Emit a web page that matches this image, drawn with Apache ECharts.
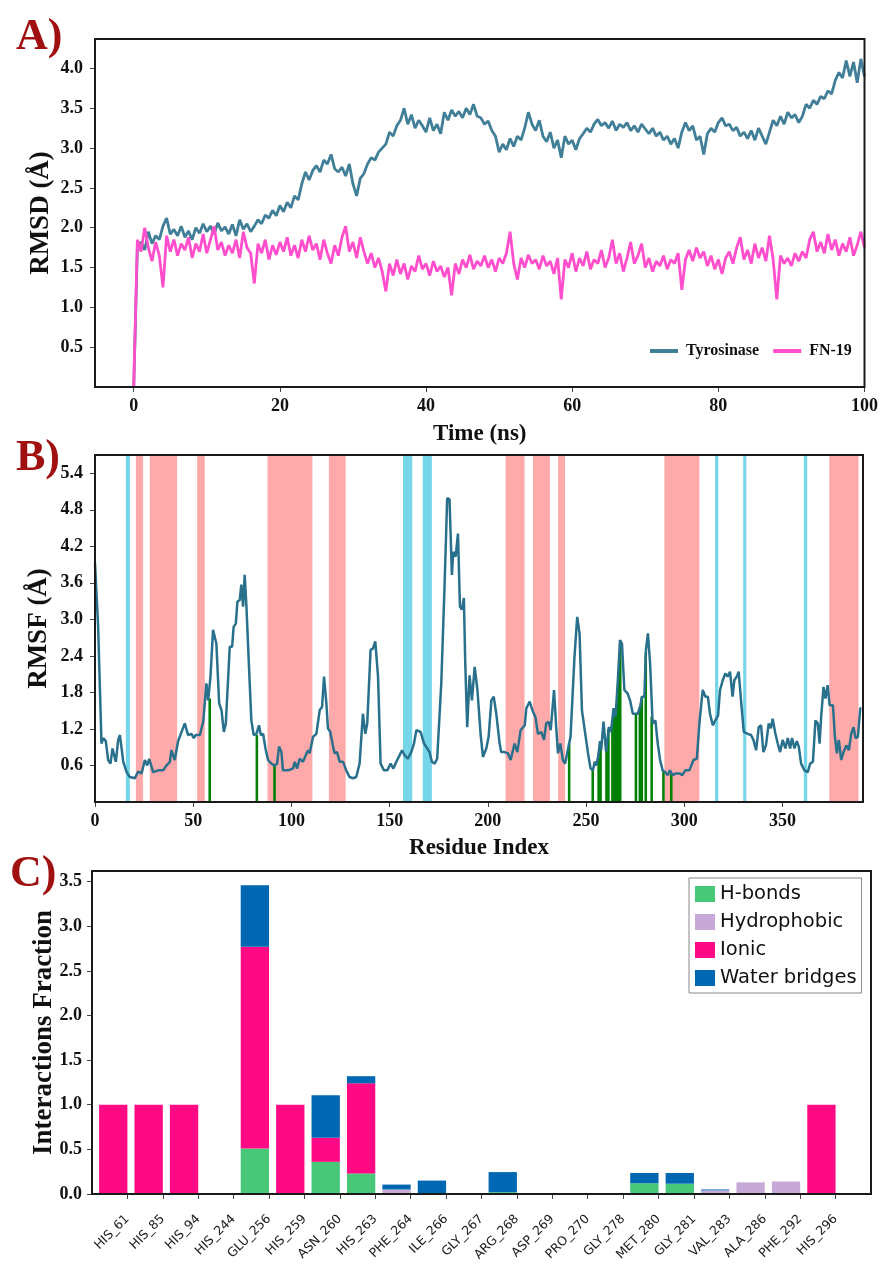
<!DOCTYPE html>
<html><head><meta charset="utf-8">
<script src="https://cdn.jsdelivr.net/npm/echarts@6/dist/echarts.min.js"></script>
<style>html,body{margin:0;padding:0;background:#fff}#c{width:881px;height:1264px}</style>
</head><body><div id="c"></div>
<script>
// ---------- Panel A : RMSD ----------
const timeNs = [
0,0.5,1,1.5,2,2.5,3,3.5,4,4.5,
5,5.5,6,6.5,7,7.5,8,8.5,9,9.5,
10,10.5,11,11.5,12,12.5,13,13.5,14,14.5,
15,15.5,16,16.5,17,17.5,18,18.5,19,19.5,
20,20.5,21,21.5,22,22.5,23,23.5,24,24.5,
25,25.5,26,26.5,27,27.5,28,28.5,29,29.5,
30,30.5,31,31.5,32,32.5,33,33.5,34,34.5,
35,35.5,36,36.5,37,37.5,38,38.5,39,39.5,
40,40.5,41,41.5,42,42.5,43,43.5,44,44.5,
45,45.5,46,46.5,47,47.5,48,48.5,49,49.5,
50,50.5,51,51.5,52,52.5,53,53.5,54,54.5,
55,55.5,56,56.5,57,57.5,58,58.5,59,59.5,
60,60.5,61,61.5,62,62.5,63,63.5,64,64.5,
65,65.5,66,66.5,67,67.5,68,68.5,69,69.5,
70,70.5,71,71.5,72,72.5,73,73.5,74,74.5,
75,75.5,76,76.5,77,77.5,78,78.5,79,79.5,
80,80.5,81,81.5,82,82.5,83,83.5,84,84.5,
85,85.5,86,86.5,87,87.5,88,88.5,89,89.5,
90,90.5,91,91.5,92,92.5,93,93.5,94,94.5,
95,95.5,96,96.5,97,97.5,98,98.5,99,99.5,
100];
const tyrosinaseRmsd = [
0.00,1.75,1.82,1.72,1.95,1.80,1.90,1.85,2.02,2.12,
1.92,1.98,1.90,2.02,1.88,1.96,1.85,2.00,1.93,2.05,
1.95,2.02,1.92,2.06,1.96,2.01,1.92,2.04,1.90,2.10,
1.98,2.05,1.95,2.02,2.10,2.05,2.16,2.12,2.22,2.15,
2.28,2.20,2.32,2.25,2.40,2.35,2.55,2.70,2.60,2.72,
2.78,2.70,2.85,2.80,2.92,2.74,2.70,2.76,2.65,2.80,
2.55,2.40,2.62,2.68,2.80,2.88,2.85,2.95,3.00,3.05,
3.20,3.15,3.28,3.35,3.50,3.30,3.42,3.25,3.35,3.28,
3.20,3.38,3.22,3.30,3.18,3.45,3.35,3.48,3.40,3.46,
3.38,3.50,3.42,3.55,3.40,3.38,3.30,3.34,3.22,3.15,
2.95,3.05,2.98,3.12,3.02,3.15,3.10,3.25,3.45,3.30,
3.22,3.35,3.15,3.08,3.20,3.00,3.10,2.88,3.15,3.05,
3.10,2.98,3.12,3.18,3.25,3.20,3.30,3.36,3.28,3.32,
3.25,3.34,3.22,3.30,3.26,3.32,3.22,3.28,3.20,3.30,
3.24,3.18,3.25,3.15,3.20,3.10,3.15,3.05,3.12,3.00,
3.20,3.32,3.22,3.28,3.10,3.15,2.92,3.18,3.25,3.20,
3.32,3.38,3.28,3.30,3.22,3.26,3.15,3.20,3.12,3.22,
3.10,3.25,3.15,3.05,3.20,3.35,3.28,3.40,3.30,3.45,
3.38,3.42,3.32,3.40,3.55,3.50,3.60,3.55,3.65,3.62,
3.72,3.68,3.85,3.95,3.88,4.10,3.90,4.08,3.82,4.12,
3.90];
const fn19Rmsd = [
0.00,1.85,1.70,2.00,1.75,1.58,1.82,1.65,1.25,1.90,
1.70,1.85,1.65,1.80,1.72,1.88,1.62,1.80,1.70,1.92,
1.68,1.85,2.02,1.72,1.82,1.65,1.78,1.68,1.85,1.62,
1.95,1.75,1.68,1.30,1.80,1.68,1.85,1.60,1.78,1.66,
1.82,1.70,1.88,1.65,1.78,1.62,1.85,1.70,1.90,1.72,
1.80,1.60,1.85,1.68,1.55,1.78,1.65,1.88,2.02,1.70,
1.82,1.62,1.88,1.70,1.55,1.68,1.50,1.62,1.45,1.20,
1.55,1.40,1.60,1.42,1.55,1.35,1.52,1.45,1.65,1.48,
1.55,1.40,1.58,1.45,1.52,1.38,1.50,1.15,1.55,1.42,
1.60,1.50,1.66,1.48,1.58,1.52,1.65,1.50,1.60,1.45,
1.62,1.55,1.68,1.95,1.55,1.35,1.62,1.50,1.66,1.55,
1.60,1.48,1.65,1.52,1.58,1.42,1.62,1.10,1.60,1.50,
1.68,1.45,1.62,1.52,1.70,1.48,1.60,1.55,1.72,1.50,
1.62,1.85,1.55,1.68,1.45,1.62,1.82,1.55,1.65,1.80,
1.50,1.62,1.45,1.58,1.52,1.65,1.48,1.60,1.55,1.68,
1.22,1.60,1.72,1.58,1.75,1.62,1.70,1.52,1.65,1.48,
1.60,1.42,1.62,1.70,1.55,1.75,1.88,1.60,1.72,1.55,
1.80,1.62,1.75,1.58,1.90,1.60,1.10,1.65,1.55,1.62,
1.52,1.68,1.58,1.70,1.62,1.85,1.95,1.70,1.82,1.68,
1.92,1.72,1.85,1.65,1.80,1.70,1.88,1.65,1.78,1.95,
1.75];
const aTicksX = [0,20,40,60,80,100];
const aTicksY = [0.5,1.0,1.5,2.0,2.5,3.0,3.5,4.0];

// ---------- Panel B : RMSF ----------
const rmsfPoints = [
[0,3.92],[1.6,2.88],[3.3,0.96],[4.2,1.05],[5.5,1.00],[6.7,0.69],[7.9,0.63],[8.9,0.88],[9.6,0.91],[10.6,0.66],
[11.8,1.02],[12.7,1.10],[14.4,0.66],[16.1,0.49],[17.7,0.41],[20.3,0.39],[22,0.50],[23.7,0.47],[25.4,0.69],[26.6,0.60],
[27.6,0.71],[29.6,0.49],[32.2,0.52],[34.7,0.52],[36.4,0.60],[38.1,0.66],[38.9,0.85],[40.6,0.69],[42.3,1.00],[43.2,1.02],
[45.7,1.29],[47.4,1.10],[49.1,1.12],[50.3,1.05],[51.3,1.10],[53.4,1.10],[55.1,1.32],[56.7,1.95],[57.6,1.67],[58.8,2.06],
[60.1,2.83],[61,2.82],[61.8,2.60],[63.2,1.62],[64.4,1.51],[65.6,1.15],[66.6,1.29],[67.4,1.26],[68.6,2.55],[69.8,2.55],
[70.6,2.88],[71.7,2.93],[72.5,3.29],[73.7,3.32],[74.5,3.57],[75.4,3.21],[76.2,3.73],[77.1,3.21],[78.4,2.22],[79.6,1.34],
[80.8,1.10],[82.2,1.12],[83.5,1.26],[84.4,1.10],[85.6,1.12],[86.8,0.88],[88.1,0.69],[89.8,0.63],[91.5,0.60],[92.7,0.63],
[93.7,0.91],[94.9,0.82],[95.7,0.52],[98.3,0.52],[100.8,0.55],[101.7,0.66],[102.9,0.55],[104.2,0.71],[105.9,0.66],[107.3,0.77],
[108.5,0.85],[109.3,0.80],[111,1.07],[112.7,1.12],[113.5,1.10],[114.4,1.51],[115.6,1.56],[116.6,2.06],[117.8,1.62],[118.6,1.21],
[119.8,1.15],[121.2,0.91],[122,0.80],[123.2,0.82],[124.6,0.66],[126.3,0.66],[127.9,0.52],[129.6,0.41],[131.3,0.39],[133,0.41],
[134.7,0.63],[136.4,1.45],[137.6,1.12],[138.6,1.29],[140.3,2.50],[141.5,2.52],[142.7,2.64],[144.1,2.06],[145.4,0.63],[147.1,0.52],
[148.8,0.52],[150.5,0.63],[151.9,0.55],[153.4,0.66],[155.1,0.77],[156.3,0.85],[157.6,0.77],[159.3,0.71],[161,0.82],[162.4,0.96],
[163.6,1.18],[165.8,1.15],[167.5,0.96],[169.2,0.88],[170.3,0.82],[171.5,0.66],[172.9,0.63],[174.2,0.71],[176.3,1.95],[178,3.59],
[179.3,4.99],[180.5,4.97],[181.7,3.73],[182.4,4.11],[183.6,4.03],[184.8,4.41],[185.8,3.21],[186.8,3.16],[187.8,3.35],[188.5,2.28],
[189.5,1.23],[190.7,2.08],[191.9,1.67],[193.3,2.22],[194.7,1.84],[196.3,1.12],[197.5,0.74],[199.2,0.88],[200.4,1.07],[201.8,1.67],
[203,1.73],[204.3,1.45],[206,0.96],[206.8,0.82],[208.5,0.82],[210.2,0.80],[211.6,0.69],[213.6,0.96],[215,0.82],[216.7,1.18],
[218.8,1.26],[219.6,1.54],[221.3,1.65],[223,1.48],[224.2,1.40],[225.5,1.12],[227.2,1.15],[228.6,1.02],[229.7,1.29],[230.9,1.32],
[232,1.18],[233.7,1.84],[234.8,1.23],[235.7,0.80],[236.9,0.96],[238.2,0.69],[239.3,0.63],[240.7,0.85],[242.1,1.07],[244.1,2.38],
[245.5,3.04],[246.7,2.77],[247.9,1.51],[249.6,1.12],[251,0.80],[252.3,0.55],[253.5,0.52],[254.4,0.66],[255.2,0.60],[256.2,0.75],
[257.1,1.00],[257.7,0.85],[258.9,1.32],[260.2,0.82],[261.6,1.23],[262.7,1.15],[264,1.54],[265,1.40],[266.1,1.95],[267.3,2.66],
[268.3,2.60],[269.5,1.84],[271.2,1.78],[272.4,1.67],[273.8,1.45],[275.1,1.45],[276.3,1.45],[277.5,1.56],[278.5,1.73],[279.7,1.73],
[280.5,2.50],[281.5,2.77],[282.6,2.28],[283.9,1.29],[285.3,1.34],[286.5,0.96],[287.7,0.69],[289,0.52],[290.4,0.49],[291.6,0.44],
[292.7,0.52],[294.1,0.44],[295.8,0.47],[297.8,0.47],[298.9,0.44],[300.6,0.52],[302.6,0.52],[304.7,0.69],[306.4,0.71],[307.7,1.29],
[309.4,1.84],[310.8,1.73],[312,1.73],[313.1,1.45],[314.5,1.26],[315.8,1.34],[317.2,1.42],[318.2,1.84],[319.6,2.00],[320.9,2.11],
[322.1,2.06],[323.3,2.14],[324.6,1.73],[325.5,2.00],[326.7,2.06],[327.7,2.14],[328.9,1.67],[330.3,1.15],[332.3,1.12],[334,1.10],
[335.2,1.02],[336.6,0.85],[337.9,1.23],[339.1,1.26],[340.3,0.82],[341.6,0.93],[343,1.29],[344.1,1.21],[345,1.37],[346.4,1.12],
[347.6,0.96],[348.8,0.82],[350.1,1.02],[351.5,0.88],[352.7,1.05],[353.9,0.88],[354.9,1.05],[356.1,0.88],[357.3,1.00],[358.3,0.91],
[359.5,0.63],[361.2,0.52],[362.9,0.49],[364.1,0.63],[365.5,0.66],[366.8,1.34],[368,1.29],[368.9,0.96],[369.7,1.40],[370.9,1.89],
[371.9,1.70],[373,1.92],[374,1.59],[375.7,1.59],[376.7,1.07],[377.7,0.80],[378.7,1.02],[379.9,0.69],[381.1,0.82],[382.5,0.93],
[383.8,0.85],[385,1.12],[386.2,1.23],[387.2,1.05],[388.4,1.07],[389.6,1.54],[390.1,1.54]];
const contactIndex = [58.4,82.4,91.4,241.4,253.4,256.4,257.4,260.4,261.4,263.4,264.4,265.4,266.4,267.4,275.4,277.4,278.4,280.4,283.4,289.4,293.4];
const contactRmsf  = [1.70,1.10,0.60,0.96,0.52,0.80,0.95,0.85,1.20,1.30,1.50,1.45,2.05,2.60,1.45,1.56,1.73,2.45,1.40,0.50,0.46];
const helixRanges = [[20.8,24.5],[27.9,41.8],[52.0,55.9],[87.8,110.7],[119.1,127.6],[209,218.7],[223,231.6],[235.8,239.3],[289.9,307.7],[373.8,388.7]];
const strandRanges = [[15.7,17.75],[156.8,161.5],[166.9,171.5],[315.7,317.3],[330,331.6],[360.9,362.6]];
const bTicksX = [0,50,100,150,200,250,300,350];
const bTicksY = [0.6,1.2,1.8,2.4,3.0,3.6,4.2,4.8,5.4];

// ---------- Panel C : interactions ----------
const residues = ['HIS_61','HIS_85','HIS_94','HIS_244','GLU_256','HIS_259','ASN_260','HIS_263','PHE_264','ILE_266','GLY_267','ARG_268','ASP_269','PRO_270','GLY_278','MET_280','GLY_281','VAL_283','ALA_286','PHE_292','HIS_296'];
const hBonds       = [0,0,0,0,0.51,0,0.36,0.23,0,0,0,0.02,0,0,0,0.12,0.115,0,0,0,0];
const hydrophobic  = [0,0,0,0,0,0,0,0,0.05,0,0,0,0,0,0,0,0,0.04,0.13,0.14,0];
const ionic        = [1,1,1,0,2.26,1,0.27,1.01,0,0,0,0,0,0,0,0,0,0,0,0,1];
const waterBridges = [0,0,0,0,0.69,0,0.475,0.08,0.055,0.15,0,0.225,0,0,0,0.115,0.12,0.01,0,0,0];
const cTicksY = [0,0.5,1.0,1.5,2.0,2.5,3.0,3.5];
const cTicksX = residues.map((r,i)=>i);

const SERIF = '"Liberation Serif","Times New Roman",serif';
const SANS = '"DejaVu Sans",sans-serif';
const tickLab = {fontFamily:SERIF,fontWeight:'bold',fontSize:18,color:'#111'};
const axisTitle = {fontFamily:SERIF,fontWeight:'bold',color:'#111'};

function zip(xs, ys){ return xs.map((x,i)=>[x, ys[i]]); }

const chart = echarts.init(document.getElementById('c'), null, {renderer:'canvas'});

const cTypes = [
  ['H-bonds', hBonds, '#46c878'],
  ['Hydrophobic', hydrophobic, '#c6a9d6'],
  ['Ionic', ionic, '#ff0a84'],
  ['Water bridges', waterBridges, '#0067b3']
];
const stackBase = residues.map(()=>0);
const cSeries = cTypes.map(([name, vals, color]) => {
  const data = vals.map((v,i)=>{ const d=[i, stackBase[i], stackBase[i]+v]; stackBase[i]+=v; return d; });
  return {
    type:'custom', name, xAxisIndex:2, yAxisIndex:2, color, itemStyle:{color},
    encode:{x:0, y:[1,2]}, data,
    renderItem:(params, api)=>{
      const i=api.value(0), b=api.value(1), t=api.value(2);
      if (t-b <= 0) return null;
      const p0=api.coord([i-0.8, b]), p1=api.coord([i, t]);
      return {type:'rect', shape:{x:p0[0], y:p1[1], width:p1[0]-p0[0], height:p0[1]-p1[1]}, style:{fill:api.visual('color')}};
    }
  };
});

const markData = helixRanges.map(r=>[{xAxis:r[0], itemStyle:{color:'#ffaaaa'}},{xAxis:r[1]}])
  .concat(strandRanges.map(r=>[{xAxis:r[0], itemStyle:{color:'#74d6e8'}},{xAxis:r[1]}]));

function frame(g){ return Object.assign({show:true, borderColor:'#1a1a1a', borderWidth:2, backgroundColor:'transparent', z:20}, g); }
function tick(vals){ return {show:true, length:5, lineStyle:{color:'#444', width:1}, customValues:vals}; }
const noLine = {show:false, onZero:false};

const option = {
  animation:false,
  backgroundColor:'#fff',
  grid:[
    frame({left:95, top:39, width:771, height:348}),
    frame({left:95, top:455, width:768, height:347}),
    frame({left:92, top:871, width:779, height:325})
  ],
  xAxis:[
    {gridIndex:0, type:'value', min:-5.3, max:100, axisLine:noLine, splitLine:{show:false},
     axisTick:tick(aTicksX), axisLabel:Object.assign({customValues:aTicksX, margin:10}, tickLab),
     name:'Time (ns)', nameLocation:'middle', nameGap:36, nameMoveOverlap:false, nameTextStyle:Object.assign({fontSize:23}, axisTitle)},
    {gridIndex:1, type:'value', min:0, max:391, axisLine:noLine, splitLine:{show:false},
     axisTick:tick(bTicksX), axisLabel:Object.assign({customValues:bTicksX, margin:10}, tickLab),
     name:'Residue Index', nameLocation:'middle', nameGap:35, nameMoveOverlap:false, nameTextStyle:Object.assign({fontSize:23}, axisTitle)},
    {gridIndex:2, type:'value', min:-1, max:21, axisLine:noLine, splitLine:{show:false},
     axisTick:tick(cTicksX),
     axisLabel:{customValues:cTicksX, rotate:45, margin:23, fontFamily:SANS, fontSize:12.5, color:'#222',
       formatter:v=>residues[Math.round(v)] || ''}}
  ],
  yAxis:[
    {gridIndex:0, type:'value', min:0, max:4.37, axisLine:noLine, splitLine:{show:false},
     axisTick:tick(aTicksY), axisLabel:Object.assign({customValues:aTicksY, margin:12, formatter:v=>v.toFixed(1)}, tickLab),
     name:'RMSD (Å)', nameLocation:'middle', nameGap:40, nameMoveOverlap:false, nameTextStyle:Object.assign({fontSize:27}, axisTitle)},
    {gridIndex:1, type:'value', min:0, max:5.7, axisLine:noLine, splitLine:{show:false},
     axisTick:tick(bTicksY), axisLabel:Object.assign({customValues:bTicksY, margin:12, formatter:v=>v.toFixed(1)}, tickLab),
     name:'RMSF (Å)', nameLocation:'middle', nameGap:42, nameMoveOverlap:false, nameTextStyle:Object.assign({fontSize:27}, axisTitle)},
    {gridIndex:2, type:'value', min:0, max:3.62, axisLine:noLine, splitLine:{show:false},
     axisTick:tick(cTicksY), axisLabel:Object.assign({customValues:cTicksY, margin:10, formatter:v=>v.toFixed(1)}, tickLab),
     name:'Interactions Fraction', nameLocation:'middle', nameGap:34, nameMoveOverlap:false, nameTextStyle:Object.assign({fontSize:27}, axisTitle)}
  ],
  legend:[
    {data:['Tyrosinase','FN-19'], left:650, top:343, orient:'horizontal', icon:'rect', itemWidth:28, itemHeight:4, itemGap:14,
     padding:0, textStyle:{fontFamily:SERIF, fontWeight:'bold', fontSize:16, color:'#111', padding:[0,0,0,3]}},
    {data:['H-bonds','Hydrophobic','Ionic','Water bridges'], left:689, top:878, orient:'vertical', icon:'rect',
     itemWidth:20, itemHeight:16, itemGap:8, padding:[6,5,5,6], borderColor:'#888', borderWidth:1, backgroundColor:'#fff',
     textStyle:{fontFamily:SANS, fontSize:19.5, color:'#111'}}
  ],
  graphic:[
    {type:'text', style:{x:16, y:38, text:'A)', fill:'#a01010', font:'bold 44px "Liberation Serif"', verticalAlign:'middle'}},
    {type:'text', style:{x:16, y:459, text:'B)', fill:'#a01010', font:'bold 44px "Liberation Serif"', verticalAlign:'middle'}},
    {type:'text', style:{x:10, y:875, text:'C)', fill:'#a01010', font:'bold 44px "Liberation Serif"', verticalAlign:'middle'}}
  ],
  series:[
    {type:'line', name:'Tyrosinase', xAxisIndex:0, yAxisIndex:0, data:zip(timeNs, tyrosinaseRmsd), showSymbol:false,
     color:'#417f98', lineStyle:{color:'#417f98', width:2.8}, z:2},
    {type:'line', name:'FN-19', xAxisIndex:0, yAxisIndex:0, data:zip(timeNs, fn19Rmsd), showSymbol:false,
     color:'#ff4fcc', lineStyle:{color:'#ff4fcc', width:2.8}, z:3},
    {type:'custom', name:'contacts', xAxisIndex:1, yAxisIndex:1, data:zip(contactIndex, contactRmsf), z:3,
     renderItem:(params, api)=>{
       const x=api.value(0), h=api.value(1);
       const p0=api.coord([x,0]), p1=api.coord([x,h]);
       const w=api.size([1.3,0])[0];
       return {type:'rect', shape:{x:p0[0]-w/2, y:p1[1], width:w, height:p0[1]-p1[1]}, style:{fill:'#008000'}};
     }},
    {type:'line', name:'RMSF', xAxisIndex:1, yAxisIndex:1, data:rmsfPoints, showSymbol:false,
     color:'#28708c', lineStyle:{color:'#28708c', width:2.5}, z:4,
     markArea:{silent:true, z:1, data:markData}}
  ].concat(cSeries)
};
chart.setOption(option);
</script>
</body></html>
